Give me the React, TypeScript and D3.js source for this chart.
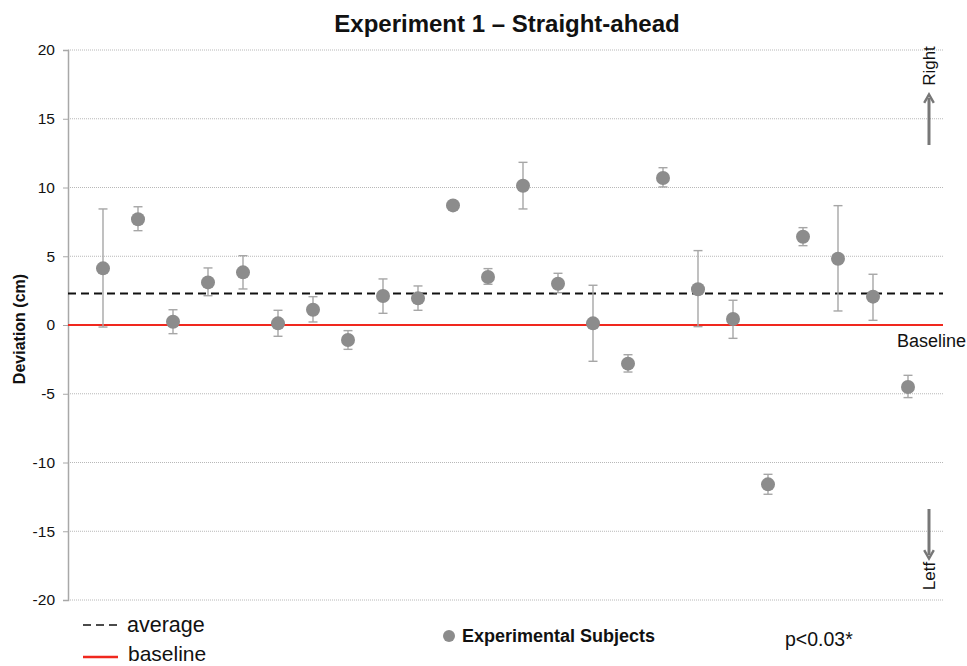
import { useEffect, useRef } from 'react';
import * as d3 from 'd3';

// subject means and error bar ends (cm)
const subjects = [1, 2, 3, 4, 5, 6, 7, 8, 9, 10, 11, 12, 13, 14, 15, 16, 17, 18, 19, 20, 21, 22, 23, 24];
const means = [4.12, 7.69, 0.24, 3.1, 3.83, 0.12, 1.11, -1.09, 2.11, 1.94, 8.7, 3.49, 10.13, 3.0, 0.12, -2.81, 10.69, 2.6, 0.44, -11.59, 6.42, 4.82, 2.06, -4.51];
const errTop = [8.44, 8.6, 1.11, 4.15, 5.04, 1.07, 2.06, -0.41, 3.35, 2.84, 8.8, 4.1, 11.83, 3.76, 2.89, -2.16, 11.44, 5.41, 1.8, -10.86, 7.08, 8.68, 3.69, -3.66];
const errBottom = [-0.15, 6.86, -0.63, 2.13, 2.62, -0.82, 0.22, -1.77, 0.85, 1.07, 8.6, 2.96, 8.44, 2.35, -2.64, -3.42, 10.04, -0.12, -0.97, -12.31, 5.77, 1.02, 0.34, -5.28];
const yTicks = [-20, -15, -10, -5, 0, 5, 10, 15, 20];
const average = 2.3;
const baseline = 0;

const W = 967;
const H = 666;
const FONT = '"Liberation Sans", Arial, sans-serif';

export default function App() {
    const axisRef = useRef<SVGGElement>(null);

    const x = d3.scaleLinear().domain([0, subjects.length + 1]).range([68, 943]);
    const y = d3.scaleLinear().domain([-20, 20]).range([600, 50]);

    useEffect(() => {
        if (!axisRef.current) return;
        const g = d3.select(axisRef.current);
        g.selectAll('*').remove();
        g.call(
            d3.axisLeft(y)
                .tickValues(yTicks)
                .tickFormat(d => String(d)) // plain hyphen, like the original
                .tickSize(5)
                .tickPadding(8)
        );
        g.select('.domain').attr('stroke', '#a8a8a8').attr('stroke-width', 1.5);
        g.selectAll('.tick line').attr('stroke', '#a8a8a8');
        g.selectAll('.tick text')
            .attr('font-family', FONT)
            .attr('font-size', 15.5)
            .attr('fill', '#111');
    }, []);

    const rows = subjects.map((s, i) => ({ s, m: means[i], hi: errTop[i], lo: errBottom[i] }));

    return (
        <div style={{ position: 'absolute', left: 0, top: 0 }}>
            <svg width={W} height={H} style={{ display: 'block', background: '#fff' }}>
                <defs>
                    <marker id="arr" viewBox="0 0 10 10" refX="5" refY="5" markerWidth="4" markerHeight="4" orient="auto">
                        <path d="M1,1 L8,5 L1,9" fill="none" stroke="#777" strokeWidth="2" />
                    </marker>
                </defs>

                <text x={507} y={32} textAnchor="middle" fontFamily={FONT} fontWeight="bold" fontSize={24} fill="#111">
                    Experiment 1 – Straight-ahead
                </text>

                {/* grid */}
                {yTicks.map(t => (
                    <line key={t} x1={68} x2={943} y1={y(t)} y2={y(t)} stroke="#b8b8b8" strokeWidth={1} strokeDasharray="1,1" />
                ))}

                <g ref={axisRef} transform="translate(68,0)" />

                <text transform={`translate(25,329) rotate(-90)`} textAnchor="middle" fontFamily={FONT} fontWeight="bold" fontSize={16} fill="#111">
                    Deviation (cm)
                </text>

                {/* baseline + average */}
                <line x1={68} x2={943} y1={y(baseline)} y2={y(baseline)} stroke="#f0281e" strokeWidth={2} />
                <line x1={68} x2={943} y1={y(average)} y2={y(average)} stroke="#111" strokeWidth={2} strokeDasharray="8,5" />

                {/* error bars */}
                {rows.map(r => (
                    <g key={'e' + r.s} stroke="#a6a6a6" strokeWidth={1.4}>
                        <line x1={x(r.s)} x2={x(r.s)} y1={y(r.hi)} y2={y(r.lo)} />
                        <line x1={x(r.s) - 4.5} x2={x(r.s) + 4.5} y1={y(r.hi)} y2={y(r.hi)} />
                        <line x1={x(r.s) - 4.5} x2={x(r.s) + 4.5} y1={y(r.lo)} y2={y(r.lo)} />
                    </g>
                ))}
                {rows.map(r => (
                    <circle key={'c' + r.s} cx={x(r.s)} cy={y(r.m)} r={7} fill="#8c8c8c" />
                ))}

                <text x={966} y={347} textAnchor="end" fontFamily={FONT} fontSize={18} fill="#111">Baseline</text>

                {/* direction arrows */}
                <line x1={929} x2={929} y1={145} y2={98} stroke="#777" strokeWidth={3} markerEnd="url(#arr)" />
                <text transform="translate(935,66) rotate(-90)" textAnchor="middle" fontFamily={FONT} fontSize={17} fill="#111">Right</text>
                <line x1={929} x2={929} y1={509} y2={555} stroke="#777" strokeWidth={3} markerEnd="url(#arr)" />
                <text transform="translate(935,576) rotate(-90)" textAnchor="middle" fontFamily={FONT} fontSize={17} fill="#111">Letf</text>

                {/* legend */}
                <line x1={83} x2={117} y1={625} y2={625} stroke="#111" strokeWidth={1.5} strokeDasharray="8,5" />
                <text x={127} y={632} fontFamily={FONT} fontSize={21.5} fill="#111">average</text>
                <line x1={83} x2={118} y1={657} y2={657} stroke="#f0281e" strokeWidth={2.5} />
                <text x={128} y={661} fontFamily={FONT} fontSize={21} fill="#111">baseline</text>

                <circle cx={449} cy={636} r={6} fill="#8c8c8c" />
                <text x={462} y={642} fontFamily={FONT} fontWeight="bold" fontSize={18} fill="#111">Experimental Subjects</text>

                <text x={785} y={646} fontFamily={FONT} fontSize={19.5} fill="#111">p&lt;0.03*</text>
            </svg>
        </div>
    );
}
